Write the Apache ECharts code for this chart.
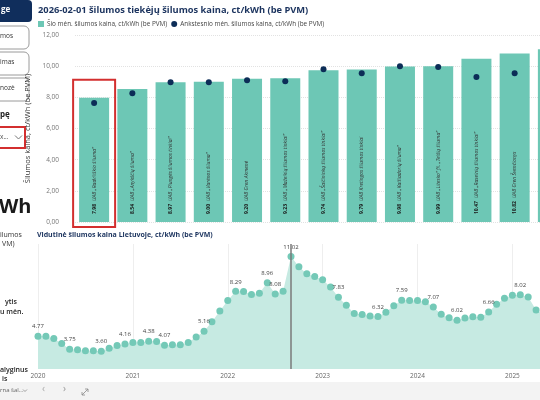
<!DOCTYPE html>
<html>
<head>
<meta charset="utf-8">
<title>Šilumos kainos</title>
<style>
  html, body { margin: 0; padding: 0; background: #fff; overflow: hidden; }
  #main { width: 600px; height: 400px; }
</style>
</head>
<body>
<div id="main"></div>
<script src="https://cdn.jsdelivr.net/npm/echarts@6/dist/echarts.min.js"></script>
<script>
// tiekėjai (viršutinis grafikas)
const SUPPLIERS = [
    'UAB „Radviliškio šiluma“', 'UAB „Anykščių šiluma“', 'UAB „Plungės šilumos tinklai“',
    'UAB „Varėnos šiluma“', 'UAB Gren Akmenė', 'UAB „Mažeikių šilumos tinklai“',
    'UAB „Šalčininkų šilumos tinklai“', 'UAB Kretingos šilumos tinklai', 'UAB „Kaišiadorių šiluma“',
    'UAB „Litesko“ fil. „Telšių šiluma“', 'UAB „Raseinių šilumos tinklai“', 'UAB Gren Švenčionys',
    'UAB „Ignalinos šilumos tinklai“'
];
const PRICE_NOW = [7.98, 8.54, 8.97, 9.00, 9.20, 9.23, 9.74, 9.79, 9.98, 9.99, 10.47, 10.82, 11.09];
const PRICE_PREV = [7.63, 8.27, 8.97, 8.97, 9.10, 9.04, 9.80, 9.55, 10.00, 9.94, 9.30, 9.55, null];

// vidutinė kaina Lietuvoje, mėnesiais nuo 2020-01
const YEARS = ['2020', '2021', '2022', '2023', '2024', '2025'];
const AVG_PRICE = [
    4.77, 4.77, 4.60, 4.20, 3.75, 3.70, 3.64, 3.63, 3.60, 3.82, 4.05, 4.16,
    4.28, 4.28, 4.38, 4.36, 4.07, 4.10, 4.10, 4.28, 4.70, 5.16, 5.90, 6.75,
    7.58, 8.29, 8.27, 8.05, 8.13, 8.96, 8.08, 8.30, 11.02, 10.22, 9.67, 9.46,
    9.20, 8.62, 7.83, 7.20, 6.56, 6.47, 6.36, 6.32, 6.64, 7.16, 7.59, 7.57,
    7.57, 7.47, 7.07, 6.50, 6.22, 6.02, 6.20, 6.30, 6.25, 6.66, 7.27, 7.74,
    7.98, 8.02, 7.84, 6.82, 6.50
];
// taškai su rodoma reikšme
const AVG_LABELLED = [0, 4, 8, 11, 14, 16, 21, 25, 29, 30, 32, 38, 43, 46, 50, 53, 57, 61, 63];

const FONT = '"Open Sans", "Noto Sans", sans-serif';
const NAVY = '#1B335E';
const TEAL = '#6DC7B5';

let MONTHS = [];
for (let y of YEARS) {
    for (let m = 1; m <= 12; m++) {
        MONTHS.push(y + '-' + (m < 10 ? '0' + m : m));
    }
}
MONTHS = MONTHS.slice(0, AVG_PRICE.length);

const peakIdx = AVG_PRICE.indexOf(Math.max(...AVG_PRICE));
const lastIdx = AVG_PRICE.length - 2;

function leftPanel() {
    let g = [];
    const txt = (text, x, y, size, weight, fill) => ({
        type: 'text', left: x, top: y, silent: true,
        style: {text: text, font: weight + ' ' + size + 'px ' + FONT, fill: fill || '#252525'}
    });
    g.push({type: 'rect', shape: {x: -40, y: 0, width: 72, height: 22, r: 4}, style: {fill: '#102E5C'}});
    g.push(txt('ge', 1, 6, 8, 'bold', '#fff'));
    const buttons = [['mos', 26], ['imas', 52], ['nozė', 78]];
    for (let b of buttons) {
        g.push({type: 'rect', shape: {x: -40, y: b[1], width: 69, height: 23, r: 5},
            style: {fill: '#fff', stroke: '#9a9a9a', lineWidth: 1}});
        g.push(txt(b[0], 0, b[1] + 7, 6.5, 'normal', '#333'));
    }
    g.push(txt('pę', 0, 111, 8, 'bold', '#222'));
    g.push({type: 'rect', shape: {x: -40, y: 127, width: 65, height: 21},
        style: {fill: '#fff', stroke: '#D32F2F', lineWidth: 2}});
    g.push(txt('x...', 0, 134, 6.5, 'normal', '#555'));
    g.push({type: 'polyline', shape: {points: [[15, 135.5], [18.5, 139], [22, 135.5]]},
        style: {stroke: '#777', lineWidth: 1, fill: null}});
    g.push(txt('Wh', -1, 197, 20, 'bold', '#1a1a1a'));
    g.push(txt('ilumos', 0, 231, 7, 'normal', '#333'));
    g.push(txt('VM)', 2, 240, 7, 'normal', '#333'));
    g.push(txt('ytis', 5, 298, 7, '600', '#222'));
    g.push(txt('u mėn.', 0, 308, 7, '600', '#222'));
    g.push(txt('alyginus', 0, 366, 7, '600', '#222'));
    g.push(txt('is', 2, 375, 7, '600', '#222'));
    // apatinė juosta
    g.push({type: 'rect', shape: {x: 0, y: 382, width: 600, height: 18}, style: {fill: '#F3F3F3'}});
    g.push(txt('rna šal...', 0, 387, 6, 'normal', '#666'));
    g.push({type: 'polyline', shape: {points: [[23, 389.5], [25, 391.5], [27, 389.5]]},
        style: {stroke: '#888', lineWidth: 0.8, fill: null}});
    g.push(txt('‹', 42, 384, 10, 'normal', '#aaa'));
    g.push(txt('›', 63, 384, 10, 'normal', '#999'));
    g.push({type: 'polyline', shape: {points: [[82, 395], [88, 389]]}, style: {stroke: '#888', lineWidth: 0.8}});
    g.push({type: 'polyline', shape: {points: [[85, 389], [88, 389], [88, 392]]}, style: {stroke: '#888', lineWidth: 0.8, fill: null}});
    g.push({type: 'polyline', shape: {points: [[82, 392], [82, 395], [85, 395]]}, style: {stroke: '#888', lineWidth: 0.8, fill: null}});
    return g;
}

let myChart = echarts.init(document.getElementById('main'));

const option = {
    animation: false,
    textStyle: {fontFamily: FONT},
    title: [
        {
            text: '2026-02-01 šilumos tiekėjų šilumos kaina, ct/kWh (be PVM)',
            left: 33, top: 1,
            textStyle: {fontSize: 9.3, fontWeight: 'bold', color: NAVY, fontFamily: FONT}
        },
        {
            text: 'Vidutinė šilumos kaina Lietuvoje, ct/kWh (be PVM)',
            left: 32, top: 226,
            textStyle: {fontSize: 7, fontWeight: 'bold', color: NAVY, fontFamily: FONT}
        }
    ],
    legend: {
        left: 33, top: 16,
        itemWidth: 6, itemHeight: 6, itemGap: 4,
        textStyle: {fontSize: 6.4, color: '#444', padding: [0, 0, 0, -2]},
        data: [
            {name: 'Šio mėn. šilumos kaina, ct/kWh (be PVM)', icon: 'rect'},
            {name: 'Ankstesnio mėn. šilumos kaina, ct/kWh (be PVM)', icon: 'circle'}
        ]
    },
    grid: [
        {left: 75, right: 28, top: 35, bottom: 178},
        {left: 38, right: 56, top: 244, bottom: 31}
    ],
    xAxis: [
        {
            type: 'category', gridIndex: 0, data: SUPPLIERS,
            axisLine: {show: false}, axisTick: {show: false}, axisLabel: {show: false}
        },
        {
            type: 'category', gridIndex: 1, data: MONTHS, boundaryGap: false,
            axisLine: {show: false}, axisTick: {show: false},
            axisLabel: {
                interval: (i) => i % 12 === 0,
                formatter: (v) => v.slice(0, 4),
                fontSize: 6.5, color: '#666', margin: 4
            },
            splitLine: {show: true, interval: (i) => i % 12 === 0, lineStyle: {color: '#EEEEEE'}}
        }
    ],
    yAxis: [
        {
            type: 'value', gridIndex: 0, min: 0, max: 12, interval: 2,
            name: 'Šilumos kaina, ct/kWh (be PVM)', nameLocation: 'middle', nameGap: 28,
            nameTextStyle: {fontSize: 7.5, color: '#333'},
            axisLabel: {
                fontSize: 6.5, color: '#777', margin: 16,
                formatter: (v) => v.toFixed(2).replace('.', ',')
            },
            splitLine: {lineStyle: {color: '#E2E2E2', type: 'dotted'}}
        },
        {
            type: 'value', gridIndex: 1, min: 2.2, max: 12, show: false
        }
    ],
    series: [
        {
            name: 'Šio mėn. šilumos kaina, ct/kWh (be PVM)',
            type: 'bar', xAxisIndex: 0, yAxisIndex: 0,
            data: PRICE_NOW, barWidth: 30,
            itemStyle: {color: TEAL},
            label: {
                show: true, position: 'insideBottom', rotate: 90,
                align: 'left', verticalAlign: 'middle', distance: 8,
                formatter: (p) => '{v|' + p.value.toFixed(2) + '} {n|' + p.name + '}',
                rich: {
                    v: {fontSize: 5, fontWeight: 'bold', color: '#1a1a1a'},
                    n: {fontSize: 5, fontStyle: 'italic', color: '#333'}
                }
            }
        },
        {
            name: 'Ankstesnio mėn. šilumos kaina, ct/kWh (be PVM)',
            type: 'scatter', xAxisIndex: 0, yAxisIndex: 0,
            data: PRICE_PREV, symbol: 'circle', symbolSize: 6, z: 5,
            itemStyle: {color: '#0C2D57', opacity: 1}
        },
        {
            name: 'Vidutinė kaina',
            type: 'line', xAxisIndex: 1, yAxisIndex: 1,
            data: AVG_PRICE.map((v, i) => {
                if (!AVG_LABELLED.includes(i)) return v;
                if (i === lastIdx) return {value: v, label: {show: true, position: 'right', distance: 1}};
                return {value: v, label: {show: true}};
            }),
            symbol: 'circle', symbolSize: 7, showAllSymbol: true,
            itemStyle: {color: '#74C9B7'},
            lineStyle: {width: 0},
            areaStyle: {color: '#C6EAE2', opacity: 1, origin: 'start'},
            label: {
                show: false, position: 'top', distance: 3,
                fontSize: 6, color: '#444',
                formatter: (p) => p.value.toFixed(2)
            },
            markLine: {
                silent: true, symbol: 'none',
                label: {show: false},
                lineStyle: {color: '#7A7A7A', width: 1.5, type: 'solid'},
                data: [{xAxis: MONTHS[peakIdx]}]
            }
        }
    ],
    graphic: leftPanel()
};

myChart.setOption(option);

// raudonas rėmelis aplink pirmą tiekėją
const top0 = myChart.convertToPixel({gridIndex: 0}, [0, PRICE_NOW[0]]);
const base0 = myChart.convertToPixel({gridIndex: 0}, [0, 0]);
let g = leftPanel();
g.push({
    type: 'rect', z: 100,
    shape: {x: top0[0] - 21, y: top0[1] - 18, width: 42, height: base0[1] - top0[1] + 23},
    style: {fill: null, stroke: '#D32F2F', lineWidth: 2}
});
myChart.setOption({graphic: g}, {replaceMerge: ['graphic']});
</script>
</body>
</html>
